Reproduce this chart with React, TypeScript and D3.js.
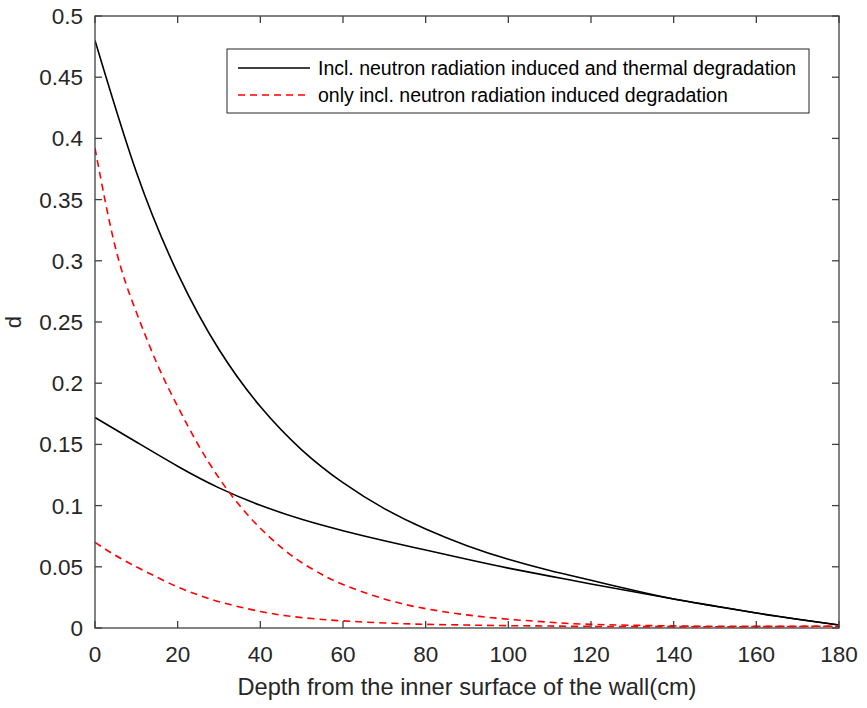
import React from "react";
import * as d3 from "d3";

const depthBlack = [0, 10, 20, 30, 40, 50, 60, 70, 80, 90, 100, 110, 120, 130, 140, 150, 160, 170, 180];
const blackUpper = [0.48, 0.3725, 0.2898, 0.2275, 0.1809, 0.1456, 0.1187, 0.0975, 0.0808, 0.0672, 0.0561, 0.047, 0.039, 0.031, 0.0237, 0.018, 0.0122, 0.0072, 0.0025];
const blackLower = [0.172, 0.152, 0.1322, 0.1145, 0.1003, 0.0888, 0.0795, 0.0713, 0.0637, 0.0561, 0.0489, 0.0424, 0.036, 0.0298, 0.0237, 0.0178, 0.0122, 0.0072, 0.0025];

const depthRed = [0, 5, 10, 15, 20, 25, 30, 35, 40, 45, 50, 55, 60, 70, 80, 90, 100, 110, 120, 140, 160, 180];
const redUpper = [0.392, 0.31, 0.258, 0.216, 0.181, 0.1495, 0.1225, 0.1, 0.0815, 0.066, 0.0535, 0.0435, 0.0355, 0.0237, 0.0158, 0.0107, 0.0072, 0.0047, 0.003, 0.0017, 0.0013, 0.0015];
const redLower = [0.07, 0.0592, 0.05, 0.0415, 0.0335, 0.027, 0.0215, 0.0172, 0.0135, 0.0106, 0.0085, 0.007, 0.0058, 0.0041, 0.003, 0.0024, 0.0019, 0.0016, 0.0013, 0.0011, 0.0011, 0.0015];

const xTicks = [0, 20, 40, 60, 80, 100, 120, 140, 160, 180];
const yTicks = [0, 0.05, 0.1, 0.15, 0.2, 0.25, 0.3, 0.35, 0.4, 0.45, 0.5];
const legendLabels = [
  "Incl. neutron radiation induced and thermal degradation",
  "only incl. neutron radiation induced degradation",
];

const W = 867, H = 708;
const L = 95, R = 839, T = 16, B = 628;
const axisColor = "#404040";
const font = "'Liberation Sans', Arial, Helvetica, sans-serif";

export default function App() {
  const x = d3.scaleLinear().domain([0, 180]).range([L, R]);
  const y = d3.scaleLinear().domain([0, 0.5]).range([B, T]);
  const line = (xs: number[], ys: number[]) =>
    d3.line<number>().x((_, i) => x(xs[i])).y((d) => y(d)).curve(d3.curveNatural)(ys) || "";

  return (
    <svg width={W} height={H} style={{ position: "absolute", left: 0, top: 0, background: "#fff" }} fontFamily={font}>
      <rect x={0} y={0} width={W} height={H} fill="#fff" />
      <defs>
        <clipPath id="plot">
          <rect x={L} y={T} width={R - L} height={B - T} />
        </clipPath>
      </defs>
      <g clipPath="url(#plot)" fill="none">
        <path d={line(depthBlack, blackUpper)} stroke="#000" strokeWidth={1.6} />
        <path d={line(depthBlack, blackLower)} stroke="#000" strokeWidth={1.6} />
        <path d={line(depthRed, redUpper)} stroke="#ff0000" strokeWidth={1.6} strokeDasharray="7,5" />
        <path d={line(depthRed, redLower)} stroke="#ff0000" strokeWidth={1.6} strokeDasharray="7,5" />
      </g>
      <rect x={L} y={T} width={R - L} height={B - T} fill="none" stroke={axisColor} strokeWidth={1.3} />
      {xTicks.map((t) => (
        <g key={"x" + t}>
          <line x1={x(t)} x2={x(t)} y1={B} y2={B - 7} stroke={axisColor} strokeWidth={1.3} />
          <line x1={x(t)} x2={x(t)} y1={T} y2={T + 7} stroke={axisColor} strokeWidth={1.3} />
          <text x={x(t)} y={B + 34} textAnchor="middle" fontSize={22.5} fill="#262626">{t}</text>
        </g>
      ))}
      {yTicks.map((t) => (
        <g key={"y" + t}>
          <line x1={L} x2={L + 7} y1={y(t)} y2={y(t)} stroke={axisColor} strokeWidth={1.3} />
          <line x1={R} x2={R - 7} y1={y(t)} y2={y(t)} stroke={axisColor} strokeWidth={1.3} />
          <text x={83} y={y(t) + 8} textAnchor="end" fontSize={22.5} fill="#262626">{String(t)}</text>
        </g>
      ))}
      <text x={(L + R) / 2} y={695} textAnchor="middle" fontSize={23.6} fill="#262626">
        Depth from the inner surface of the wall(cm)
      </text>
      <text transform={`translate(21,${(T + B) / 2}) rotate(-90)`} textAnchor="middle" fontSize={22} fill="#262626">d</text>
      <rect x={227} y={49} width={582} height={64} fill="#fff" stroke="#262626" strokeWidth={1} />
      <line x1={238} x2={310} y1={68} y2={68} stroke="#000" strokeWidth={1.6} />
      <line x1={238} x2={310} y1={95} y2={95} stroke="#ff0000" strokeWidth={1.6} strokeDasharray="7,5" />
      <text x={318} y={75} fontSize={19.5} fill="#000">{legendLabels[0]}</text>
      <text x={318} y={102} fontSize={19.5} fill="#000">{legendLabels[1]}</text>
    </svg>
  );
}
